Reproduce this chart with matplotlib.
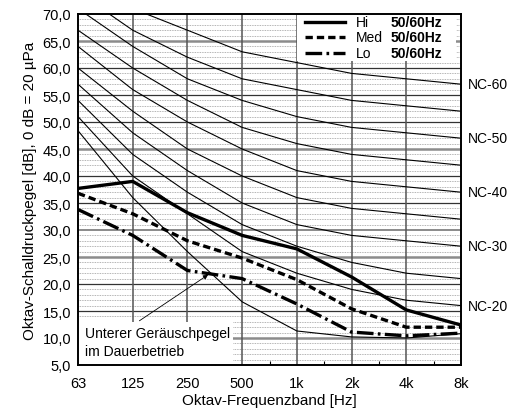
import matplotlib
matplotlib.use('Agg')
import matplotlib.pyplot as plt
from matplotlib.patches import Rectangle

plt.rcParams['font.family'] = ['Liberation Sans', 'DejaVu Sans']

# ---- data ----
freq_labels = ['63', '125', '250', '500', '1k', '2k', '4k', '8k']
hi = [37.7, 39.0, 33.2, 29.0, 26.5, 21.3, 15.2, 12.4]
med = [36.8, 33.0, 28.0, 24.8, 20.8, 15.4, 12.0, 12.0]
lo = [33.8, 29.0, 22.5, 21.0, 16.3, 11.1, 10.4, 10.9]

nc20 = [51, 40, 33, 26, 22, 19, 17, 16]
nc25 = [54, 44, 37, 31, 27, 24, 22, 21]
nc30 = [57, 48, 41, 35, 31, 29, 28, 27]
nc35 = [60, 52, 45, 40, 36, 34, 33, 32]
nc40 = [64, 56, 50, 45, 41, 39, 38, 37]
nc45 = [67, 60, 54, 49, 46, 44, 43, 42]
nc50 = [71, 64, 58, 54, 51, 49, 48, 47]
nc55 = [74, 67, 62, 58, 56, 54, 53, 52]
nc60 = [77, 71, 67, 63, 61, 59, 58, 57]
nc_curves = [nc20, nc25, nc30, nc35, nc40, nc45, nc50, nc55, nc60]
# approximate lower audible limit (Unterer Geräuschpegel im Dauerbetrieb)
lower_limit = [48.4, 36.0, 26.0, 16.7, 11.3, 10.2, 10.0, 10.8]

nc_label_text = ['NC-60', 'NC-50', 'NC-40', 'NC-30', 'NC-20']
nc_label_vals = [57, 47, 37, 27, 16]

legend_names = ['Hi', 'Med', 'Lo']
legend_freq = ['50/60Hz', '50/60Hz', '50/60Hz']

yticks = [5, 10, 15, 20, 25, 30, 35, 40, 45, 50, 55, 60, 65, 70]

# ---- figure ----
fig = plt.figure(figsize=(5.11, 4.14), dpi=100)
ax = fig.add_axes([78/511, 1-366/414, (461-78)/511, (366-15)/414])
x = list(range(len(freq_labels)))
ax.set_xlim(0, 7)
ax.set_ylim(5, 70)

# grid
for v in range(6, 70):
    if v % 5:
        ax.axhline(v, color='#9a9a9a', lw=0.6, ls=(0, (1, 1)), zorder=1)
for v in yticks[1:-1]:
    if v in (65, 45, 25, 10):
        ax.axhline(v, color='#8c8c8c', lw=1.8, zorder=1.2)
    elif v == 30:
        ax.axhline(v, color='#777777', lw=1.2, zorder=1.2)
    else:
        ax.axhline(v, color='#333333', lw=0.9, zorder=1.2)
for xi in x[1:-1]:
    ax.axvline(xi, color='#555555', lw=1.1, zorder=1.3)

# NC curves
for c in nc_curves:
    ax.plot(x, c, color='black', lw=0.8, zorder=2)
ax.plot(x, lower_limit, color='black', lw=0.8, zorder=2)

# series
ax.plot(x, hi, color='black', lw=2.4, zorder=4, solid_joinstyle='round')
ax.plot(x, med, color='black', lw=2.4, ls=(0, (2.2, 1.2)), zorder=4)
ax.plot(x, lo, color='black', lw=2.4, ls=(0, (5, 1.3, 0.8, 1.3)), zorder=4)

# note box
ax.add_patch(Rectangle((0, 5), 2.84, 7.9, facecolor='white', edgecolor='none', zorder=3))
ax.text(0.13, 10.9, 'Unterer Geräuschpegel', fontsize=10, va='center', ha='left', zorder=5)
ax.text(0.13, 7.6, 'im Dauerbetrieb', fontsize=10, va='center', ha='left', zorder=5)
ax.annotate('', xy=(2.42, 22.0), xytext=(1.08, 12.9),
            arrowprops=dict(arrowstyle='-|>', color='black', lw=0.6, mutation_scale=7), zorder=5)

# legend box
ax.add_patch(Rectangle((4.0, 61.3), 2.9, 8.7, facecolor='white', edgecolor='none', zorder=3))
ls_list = ['-', (0, (2.2, 1.2)), (0, (5, 1.3, 0.8, 1.3))]
for i, (nm, fq) in enumerate(zip(legend_names, legend_freq)):
    yv = 68.6 - i * 2.9
    ax.plot([4.15, 4.88], [yv, yv], color='black', lw=2.4, ls=ls_list[i], zorder=6)
    ax.text(5.08, yv, nm, fontsize=10, va='center', ha='left', zorder=6)
    ax.text(5.72, yv, fq, fontsize=10, va='center', ha='left', fontweight='bold', zorder=6)

# NC labels
for t, v in zip(nc_label_text, nc_label_vals):
    ax.text(7.13, v, t, fontsize=10, va='center', ha='left')

# axes
ax.set_xticks(x)
ax.set_xticklabels(freq_labels, fontsize=10.5)
ax.set_xticks([i + 0.5 for i in x[:-1]], minor=True)
ax.set_yticks(yticks)
ax.set_yticklabels([f'{v:.1f}'.replace('.', ',') for v in yticks], fontsize=10.5)
ax.tick_params(axis='both', which='major', length=0, pad=5)
ax.tick_params(axis='x', which='minor', direction='in', length=3, width=0.8)
ax.tick_params(axis='x', which='major', pad=8)
for s in ax.spines.values():
    s.set_linewidth(1.4)
    s.set_zorder(7)
ax.set_xlabel('Oktav-Frequenzband [Hz]', fontsize=11, labelpad=2)
ax.set_ylabel('Oktav-Schalldruckpegel [dB], 0 dB = 20 µPa', fontsize=11, labelpad=4)

fig.savefig('out.png', dpi=100)
